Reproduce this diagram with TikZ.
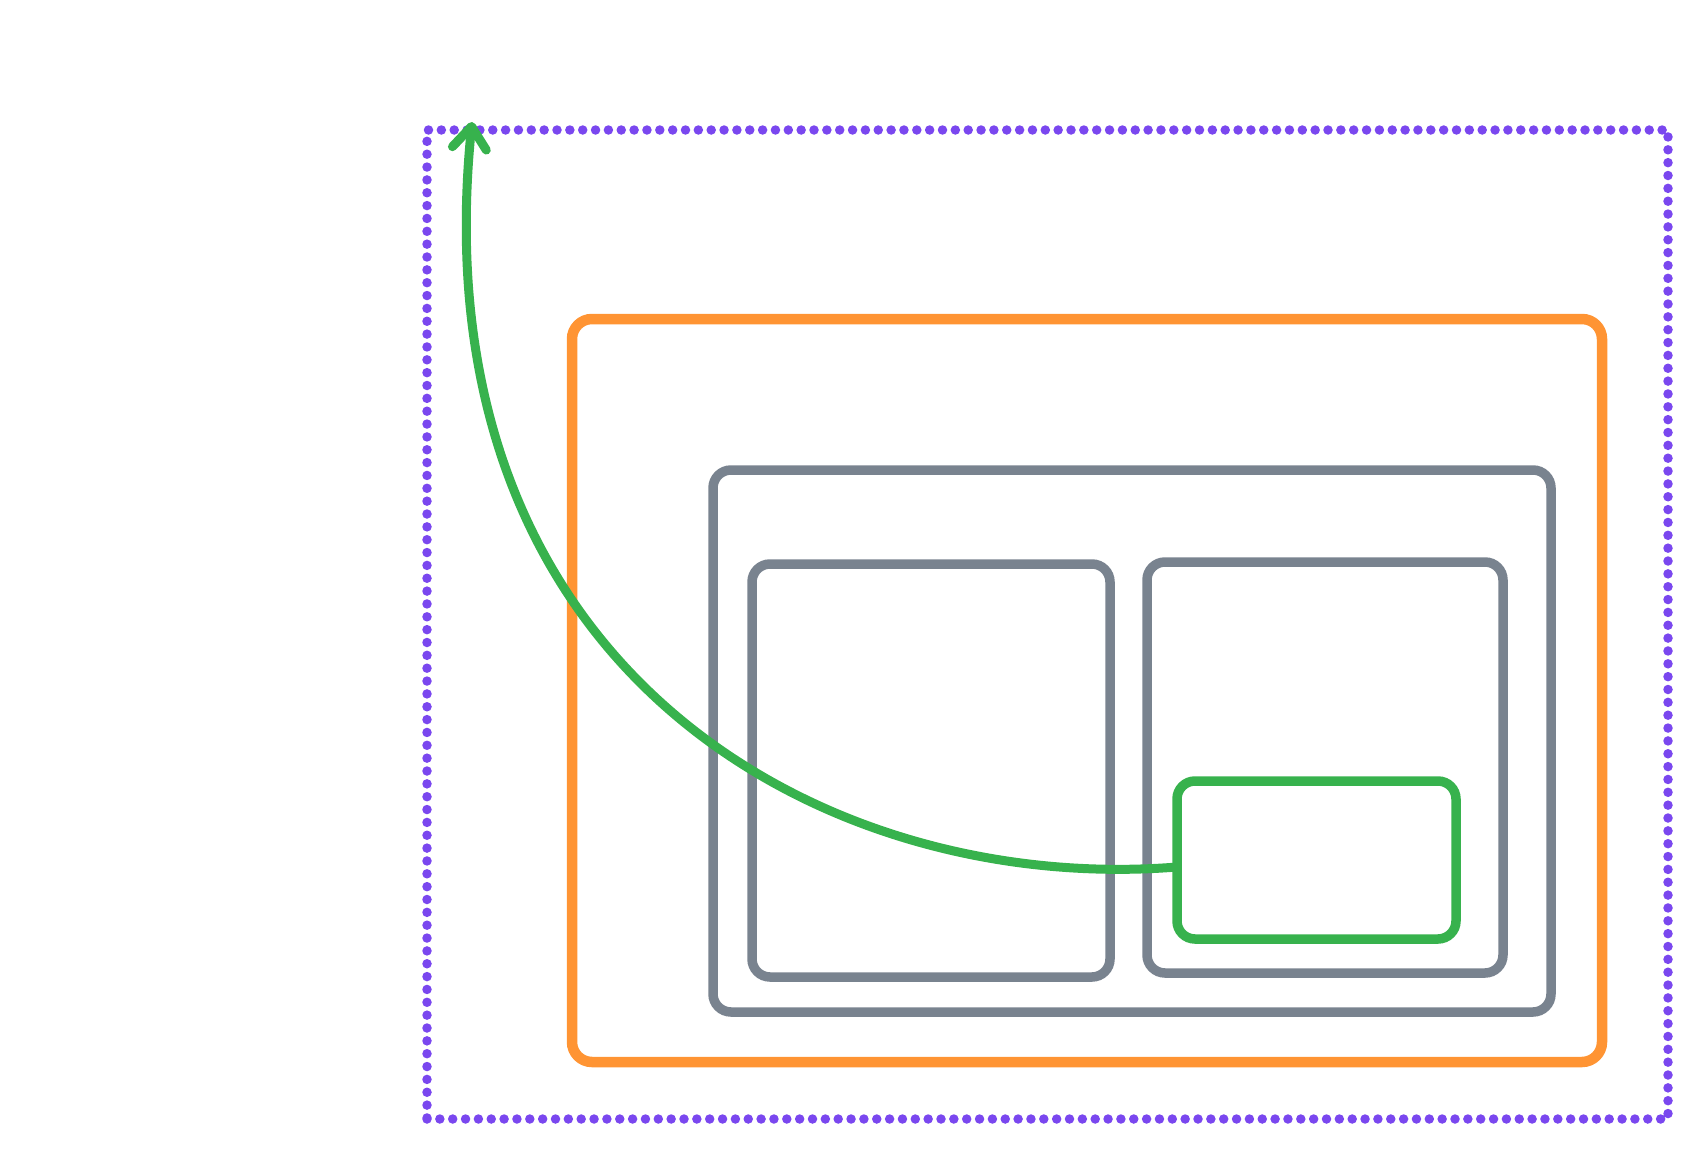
\documentclass[tikz,border=0pt]{standalone}
\usetikzlibrary{arrows.meta}
\definecolor{cpurple}{HTML}{7A47EF}
\definecolor{corange}{HTML}{FF9433}
\definecolor{cgray}{HTML}{79838F}
\definecolor{cgreen}{HTML}{37B24D}
\begin{document}
\begin{tikzpicture}[x=1pt,y=-1pt,
  box/.style={draw,rectangle,inner sep=0pt,outer sep=0pt,rounded corners=18pt},
  dotbox/.style={draw=cpurple,rectangle,inner sep=0pt,outer sep=0pt,line width=9.5pt,line cap=round,dash pattern=on 0pt off 12.85pt},
  orangebox/.style={box,draw=corange,line width=10.5pt,rounded corners=20pt},
  graybox/.style={box,draw=cgray,line width=9.5pt},
  greenbox/.style={box,draw=cgreen,line width=9.5pt},
  link/.style={draw=cgreen,line width=9pt,-{Straight Barb[length=22pt,width=34pt,round]}}]
\useasboundingbox (0,0) rectangle (1703,1156);
\node[dotbox,minimum width=1241pt,minimum height=989pt] (scope) at (1047.5,624.5) {};
\node[orangebox,minimum width=1030pt,minimum height=743pt] (outer) at (1087,690.5) {};
\node[graybox,minimum width=838pt,minimum height=542pt] (group) at (1132,741) {};
\node[graybox,minimum width=358pt,minimum height=413pt] (left) at (931,770.5) {};
\node[graybox,minimum width=356pt,minimum height=411pt] (right) at (1325,767.5) {};
\node[greenbox,minimum width=279pt,minimum height=158pt] (target) at (1316.5,860) {};
\coordinate (start) at ([yshift=-7pt]target.west);
\coordinate (tip) at (472,122);
\draw[link] (start) .. controls (826,895) and (417,672) .. (tip);
\end{tikzpicture}
\end{document}
